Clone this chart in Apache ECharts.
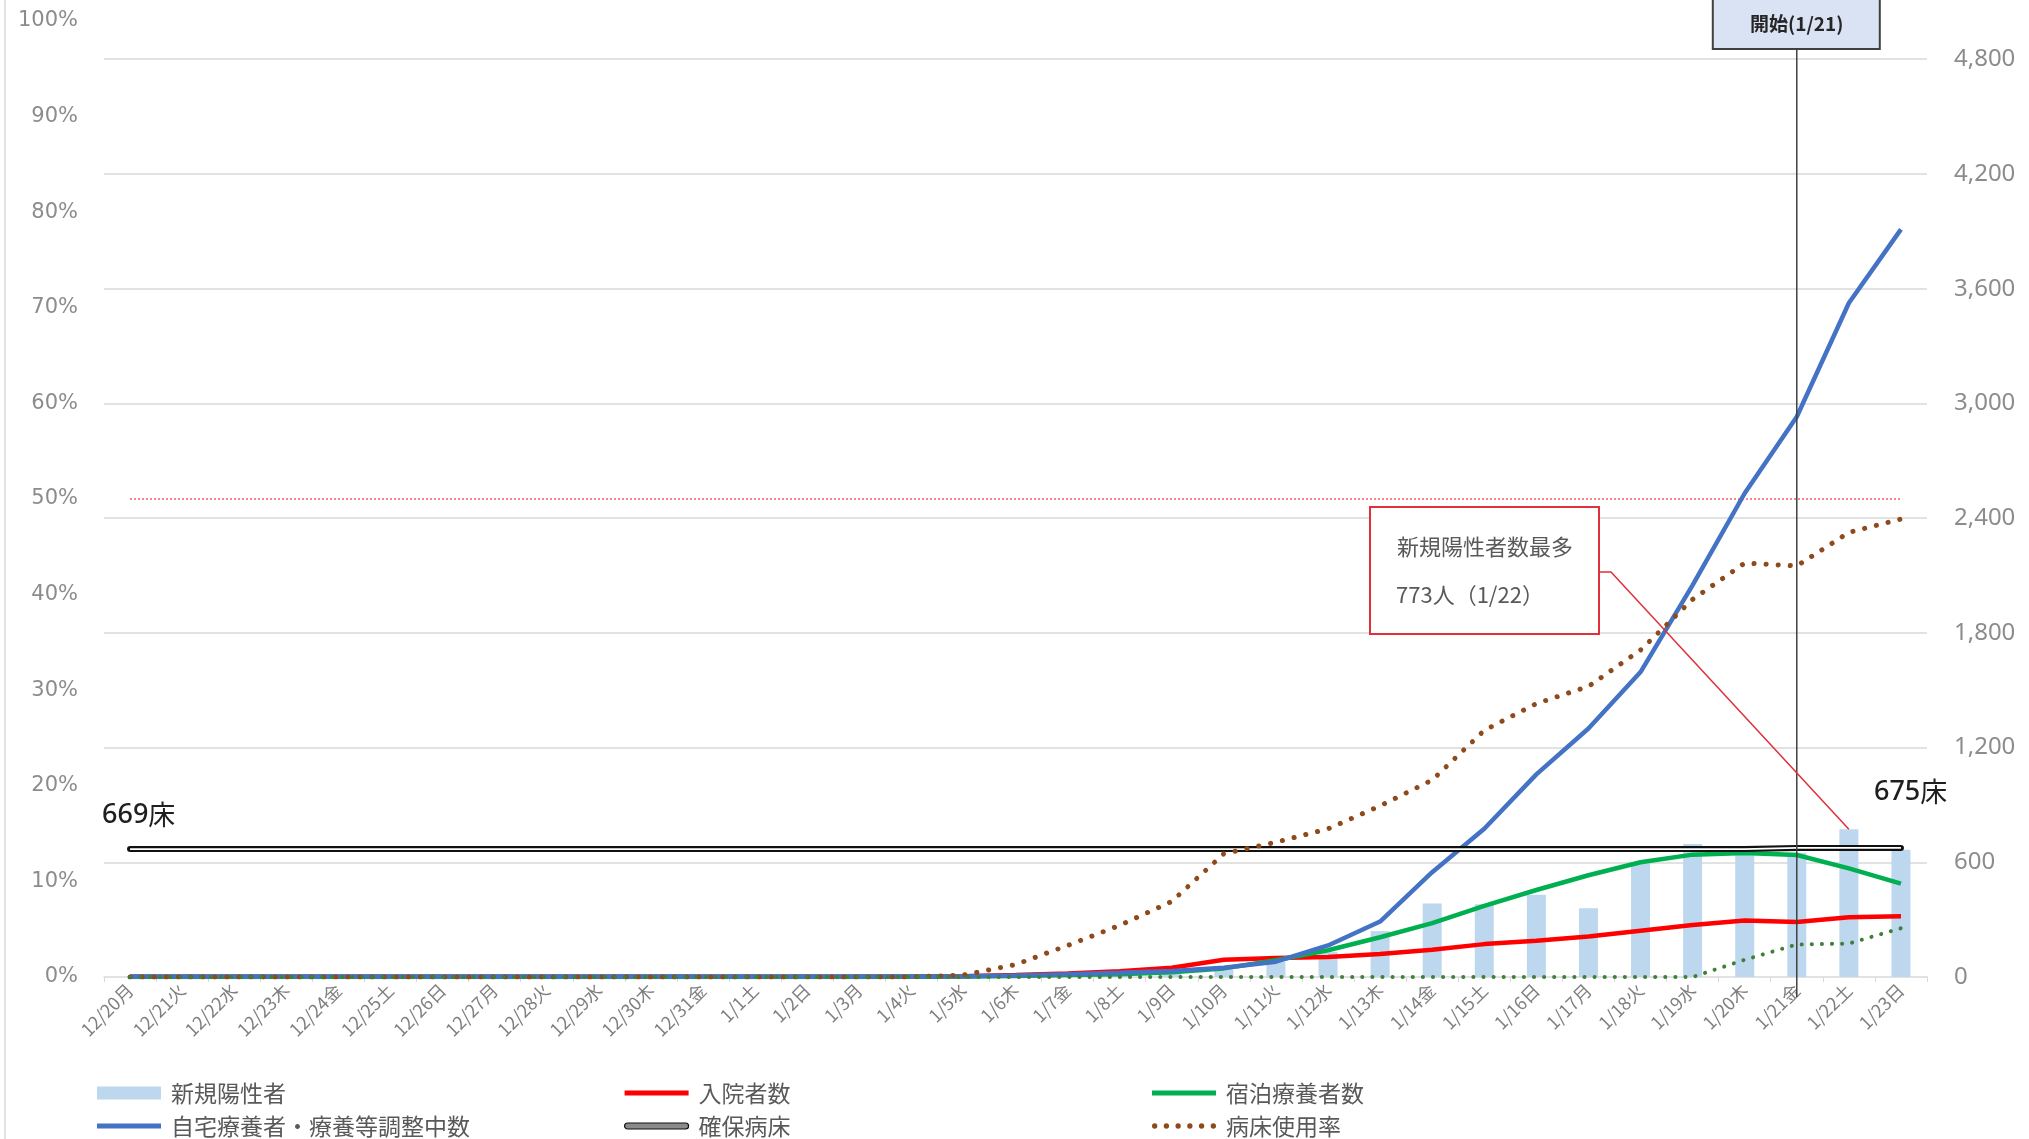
<!DOCTYPE html>
<html>
<head>
<meta charset="utf-8">
<script src="https://cdn.jsdelivr.net/npm/echarts@6/dist/echarts.min.js"></script>
<style>
  html, body { margin: 0; padding: 0; background: #fff; }
  #main { width: 2029px; height: 1139px; }
</style>
</head>
<body>
<div id="main"></div>
<script>
const categories = [
  '12/20月', '12/21火', '12/22水', '12/23木', '12/24金', '12/25土', '12/26日', '12/27月', '12/28火', '12/29水',
  '12/30木', '12/31金', '1/1土', '1/2日', '1/3月', '1/4火', '1/5水', '1/6木', '1/7金', '1/8土',
  '1/9日', '1/10月', '1/11火', '1/12水', '1/13木', '1/14金', '1/15土', '1/16日', '1/17月', '1/18火',
  '1/19水', '1/20木', '1/21金', '1/22土', '1/23日'
];
// persons (right axis)
const newCases = [0, 1, 0, 1, 0, 2, 1, 0, 1, 2, 1, 2, 1, 2, 3, 5, 9, 15, 22, 26, 30, 40, 80, 130, 240, 385, 380, 430, 360, 595, 695, 685, 650, 773, 665];
const hospitalized = [1, 1, 1, 1, 1, 1, 1, 1, 1, 1, 1, 1, 1, 1, 1, 2, 4, 10, 18, 30, 48, 90, 100, 105, 120, 142, 172, 190, 212, 242, 272, 295, 288, 313, 318];
const hotelCare = [0, 0, 0, 0, 0, 0, 0, 0, 0, 0, 0, 0, 0, 0, 0, 1, 2, 5, 10, 15, 25, 45, 88, 140, 208, 282, 372, 455, 532, 600, 640, 648, 638, 568, 488];
const homeCare = [2, 2, 2, 2, 2, 2, 2, 2, 2, 2, 2, 2, 2, 2, 2, 3, 4, 8, 14, 22, 32, 48, 80, 165, 290, 548, 775, 1060, 1300, 1595, 2050, 2530, 2930, 3525, 3910];
const securedBeds = [669, 669, 669, 669, 669, 669, 669, 669, 669, 669, 669, 669, 669, 669, 669, 669, 669, 669, 669, 669, 669, 669, 669, 669, 669, 669, 669, 669, 669, 669, 669, 669, 675, 675, 675];
// percent (left axis)
const bedRate = [0, 0, 0, 0, 0, 0, 0, 0, 0, 0, 0, 0, 0, 0, 0, 0, 0.2, 1.3, 3.3, 5.4, 7.9, 12.9, 14.1, 15.5, 17.9, 20.6, 25.8, 28.6, 30.4, 34.2, 39.5, 43.3, 43.0, 46.5, 47.9];
const severeRate = [0, 0, 0, 0, 0, 0, 0, 0, 0, 0, 0, 0, 0, 0, 0, 0, 0, 0, 0, 0, 0, 0, 0, 0, 0, 0, 0, 0, 0, 0, 0, 1.8, 3.4, 3.5, 5.1];
const threshold = [50, 50, 50, 50, 50, 50, 50, 50, 50, 50, 50, 50, 50, 50, 50, 50, 50, 50, 50, 50, 50, 50, 50, 50, 50, 50, 50, 50, 50, 50, 50, 50, 50, 50, 50];

const jp = '"Noto Sans CJK JP", "Noto Sans", sans-serif';
const lineIcon = 'path://M0,0H64V5H0Z';
const doubleIcon = 'path://M3,0H61A3,3,0,0,1,61,6H3A3,3,0,0,1,3,0Z';
const dotIcon = 'path://M0,2.5a2.5,2.5 0 1,0 5,0a2.5,2.5 0 1,0 -5,0ZM11,2.5a2.5,2.5 0 1,0 5,0a2.5,2.5 0 1,0 -5,0ZM22,2.5a2.5,2.5 0 1,0 5,0a2.5,2.5 0 1,0 -5,0ZM33,2.5a2.5,2.5 0 1,0 5,0a2.5,2.5 0 1,0 -5,0ZM44,2.5a2.5,2.5 0 1,0 5,0a2.5,2.5 0 1,0 -5,0ZM55,2.5a2.5,2.5 0 1,0 5,0a2.5,2.5 0 1,0 -5,0Z';

const legendBase = {
  orient: 'vertical',
  top: 1081,
  height: 120,
  padding: 0,
  itemWidth: 64,
  itemHeight: 13,
  itemGap: 9,
  selectedMode: false,
  textStyle: { fontSize: 23, color: '#595959', fontFamily: jp, lineHeight: 24, padding: [0, 0, 0, 5] }
};

const chart = echarts.init(document.getElementById('main'));

const option = {
  animation: false,
  backgroundColor: '#fff',
  textStyle: { fontFamily: jp },
  grid: { left: 104, right: 102, top: 21, bottom: 162, containLabel: false },
  legend: [
    Object.assign({}, legendBase, { left: 97, data: [
      { name: '新規陽性者', icon: 'rect' },
      { name: '自宅療養者・療養等調整中数', icon: lineIcon }
    ] }),
    Object.assign({}, legendBase, { left: 624, data: [
      { name: '入院者数', icon: lineIcon },
      { name: '確保病床', icon: doubleIcon, itemStyle: { color: '#8a8a8a', borderColor: '#111', borderWidth: 1.2 } }
    ] }),
    Object.assign({}, legendBase, { left: 1152, data: [
      { name: '宿泊療養者数', icon: lineIcon },
      { name: '病床使用率', icon: dotIcon }
    ] })
  ],
  xAxis: {
    type: 'category',
    data: categories,
    boundaryGap: true,
    axisLine: { lineStyle: { color: '#d9d9d9', width: 1.5 } },
    axisTick: { show: true, length: 5, lineStyle: { color: '#d9d9d9' } },
    axisLabel: { interval: 0, rotate: 45, fontSize: 18, color: '#7f7f7f', margin: 10, fontFamily: jp }
  },
  yAxis: [
    {
      type: 'value',
      min: 0,
      max: 100,
      interval: 10,
      axisLine: { show: false },
      axisTick: { show: false },
      splitLine: { show: false },
      axisLabel: { formatter: '{value}%', fontSize: 21, color: '#8c8c8c', margin: 26, fontFamily: '"DejaVu Sans", sans-serif' }
    },
    {
      type: 'value',
      position: 'right',
      min: 0,
      max: 5000,
      interval: 600,
      axisLine: { show: false },
      axisTick: { show: false },
      splitLine: { show: true, showMaxLine: false, showMinLine: false, lineStyle: { color: '#d9d9d9', width: 1.5 } },
      axisLabel: {
        showMaxLabel: false,
        fontSize: 24,
        color: '#8c8c8c',
        margin: 27,
        fontFamily: '"Noto Sans", sans-serif',
        formatter: v => v.toLocaleString('en-US')
      }
    }
  ],
  series: [
    {
      name: '新規陽性者', type: 'bar', yAxisIndex: 1, data: newCases,
      barWidth: 19, itemStyle: { color: '#bdd7ee' }, z: 1
    },
    {
      name: '入院者数', type: 'line', yAxisIndex: 1, data: hospitalized,
      color: '#ff0000', symbol: 'none', lineStyle: { width: 4.5 }, z: 3
    },
    {
      name: '宿泊療養者数', type: 'line', yAxisIndex: 1, data: hotelCare,
      color: '#00b050', symbol: 'none', lineStyle: { width: 4.5 }, z: 4
    },
    {
      name: '自宅療養者・療養等調整中数', type: 'line', yAxisIndex: 1, data: homeCare,
      color: '#4472c4', symbol: 'none', lineStyle: { width: 4.5 }, z: 5
    },
    {
      name: '確保病床', type: 'line', yAxisIndex: 1, data: securedBeds,
      color: '#111', symbol: 'none', lineStyle: { width: 6, cap: 'round' }, z: 6
    },
    {
      name: '確保病床(内)', type: 'line', yAxisIndex: 1, data: securedBeds,
      color: '#fff', symbol: 'none', lineStyle: { width: 1.8 }, z: 7
    },
    {
      name: '病床使用率', type: 'line', yAxisIndex: 0, data: bedRate,
      color: '#8f4a1c', symbol: 'none', lineStyle: { width: 5, type: [0.1, 12], cap: 'round' }, z: 8
    },
    {
      name: '重症病床使用率', type: 'line', yAxisIndex: 0, data: severeRate,
      color: '#3f7f3a', symbol: 'none', lineStyle: { width: 4, type: [0.1, 10], cap: 'round' }, z: 8
    },
    {
      name: '50%', type: 'line', yAxisIndex: 0, data: threshold,
      color: '#ff5a5a', symbol: 'none', lineStyle: { width: 1.5, type: [2, 2] }, z: 2
    }
  ]
};

chart.setOption(option);

// annotations positioned from the axes
const px = (cat, v, yIdx) => chart.convertToPixel({ xAxisIndex: 0, yAxisIndex: yIdx }, [cat, v]);
const start = px(categories[0], securedBeds[0], 1);
const end = px(categories[34], securedBeds[34], 1);
const peak = px('1/22土', 773, 1);
const axisZero = px('1/21金', 0, 1);
const xStart = axisZero[0];
const bedFont = { n: { font: '500 27px "Noto Sans"', fill: '#1f1f1f' }, u: { font: '27px "Noto Sans CJK JP"', fill: '#1f1f1f' } };

chart.setOption({
  graphic: [
    { type: 'line', shape: { x1: 5, y1: 0, x2: 5, y2: 1139 }, style: { stroke: '#d9d9d9', lineWidth: 1.5 } },
    { type: 'line', shape: { x1: xStart, y1: 49, x2: xStart, y2: axisZero[1] + 20 }, style: { stroke: '#404040', lineWidth: 1.5 }, z: 50 },
    { type: 'rect', shape: { x: xStart - 84, y: -10, width: 167, height: 59 }, style: { fill: '#dae3f3', stroke: '#404040', lineWidth: 2 }, z: 50 },
    { type: 'text', x: xStart, y: 24, style: { text: '開始(1/21)', font: 'bold 19px "Noto Sans CJK JP"', fill: '#262626', align: 'center', verticalAlign: 'middle' }, z: 51 },
    { type: 'rect', shape: { x: 1370, y: 507, width: 229, height: 127 }, style: { fill: '#fff', stroke: '#e0303a', lineWidth: 2 }, z: 50 },
    { type: 'text', x: 1485, y: 547, style: { text: '新規陽性者数最多', font: '22px "Noto Sans CJK JP"', fill: '#595959', align: 'center', verticalAlign: 'middle' }, z: 51 },
    { type: 'text', x: 1396, y: 595, style: { text: '773人（1/22）', font: '22px "Noto Sans CJK JP"', fill: '#595959', align: 'left', verticalAlign: 'middle' }, z: 51 },
    { type: 'polyline', shape: { points: [[1599, 572], [1611, 572], peak] }, style: { stroke: '#e0303a', lineWidth: 1.5, fill: null }, z: 50 },
    { type: 'text', x: start[0] - 28, y: start[1] - 34, style: { text: '{n|669}{u|床}', verticalAlign: 'middle', align: 'left', rich: bedFont }, z: 51 },
    { type: 'text', x: end[0] - 27, y: end[1] - 56, style: { text: '{n|675}{u|床}', verticalAlign: 'middle', align: 'left', rich: bedFont }, z: 51 }
  ]
});
</script>
</body>
</html>
